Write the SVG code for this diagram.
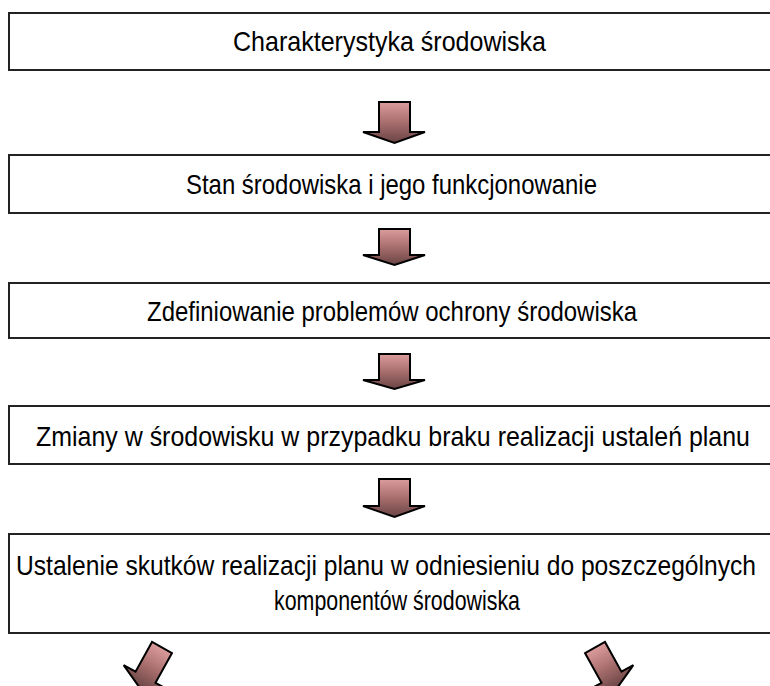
<svg xmlns="http://www.w3.org/2000/svg" width="770" height="686" viewBox="0 0 770 686">
<defs>
<linearGradient id="ag" x1="0" y1="0" x2="0" y2="1">
<stop offset="0" stop-color="#dc9c9c"/>
<stop offset="0.5" stop-color="#a86e6e"/>
<stop offset="1" stop-color="#6a4444"/>
</linearGradient>
<style>
.box{fill:#fff;stroke:#222;stroke-width:2}
.t{font-family:"Liberation Sans",Arial,sans-serif;font-size:28px;fill:#000}
.arr{fill:url(#ag);stroke:#000;stroke-width:2;stroke-linejoin:miter}
</style>
</defs>
<rect width="770" height="686" fill="#fff"/>
<g id="n1"><path class="box" d="M770,13 H9 V70 H770"/><text class="t" x="233" y="51" textLength="313" lengthAdjust="spacingAndGlyphs">Charakterystyka środowiska</text></g>
<g id="n2"><path class="box" d="M770,155 H9 V213 H770"/><text class="t" x="186" y="194" textLength="411" lengthAdjust="spacingAndGlyphs">Stan środowiska i jego funkcjonowanie</text></g>
<g id="n3"><path class="box" d="M770,283 H9 V338 H770"/><text class="t" x="147" y="321" textLength="490" lengthAdjust="spacingAndGlyphs">Zdefiniowanie problemów ochrony środowiska</text></g>
<g id="n4"><path class="box" d="M770,406 H9 V464 H770"/><text class="t" x="36" y="446" textLength="714" lengthAdjust="spacingAndGlyphs">Zmiany w środowisku w przypadku braku realizacji ustaleń planu</text></g>
<g id="n5"><path class="box" d="M770,534 H9 V633 H770"/><text class="t" x="16" y="575" textLength="740" lengthAdjust="spacingAndGlyphs">Ustalenie skutków realizacji planu w odniesieniu do poszczególnych</text><text class="t" x="274" y="610" textLength="246" lengthAdjust="spacingAndGlyphs">komponentów środowiska</text></g>
<g id="connectors">
<path class="arr" d="M379,102 H410 V132 H425 L394.5,143 L363,132 H379 Z"/>
<path class="arr" d="M379,229 H410 V255 H425 L394.5,265 L363,255 H379 Z"/>
<path class="arr" d="M379,354 H410 V380 H425 L394.5,389 L363,380 H379 Z"/>
<path class="arr" d="M379,479 H410 V506 H425 L394.5,517 L363,506 H379 Z"/>
<path class="arr" transform="translate(162,647.5) rotate(29)" d="M-11.4,0 H11.4 V34 H25 L0,46 L-25,34 H-11.4 Z"/>
<path class="arr" transform="translate(595,647.5) rotate(-29)" d="M-11.4,0 H11.4 V34 H25 L0,46 L-25,34 H-11.4 Z"/>
</g>
</svg>
